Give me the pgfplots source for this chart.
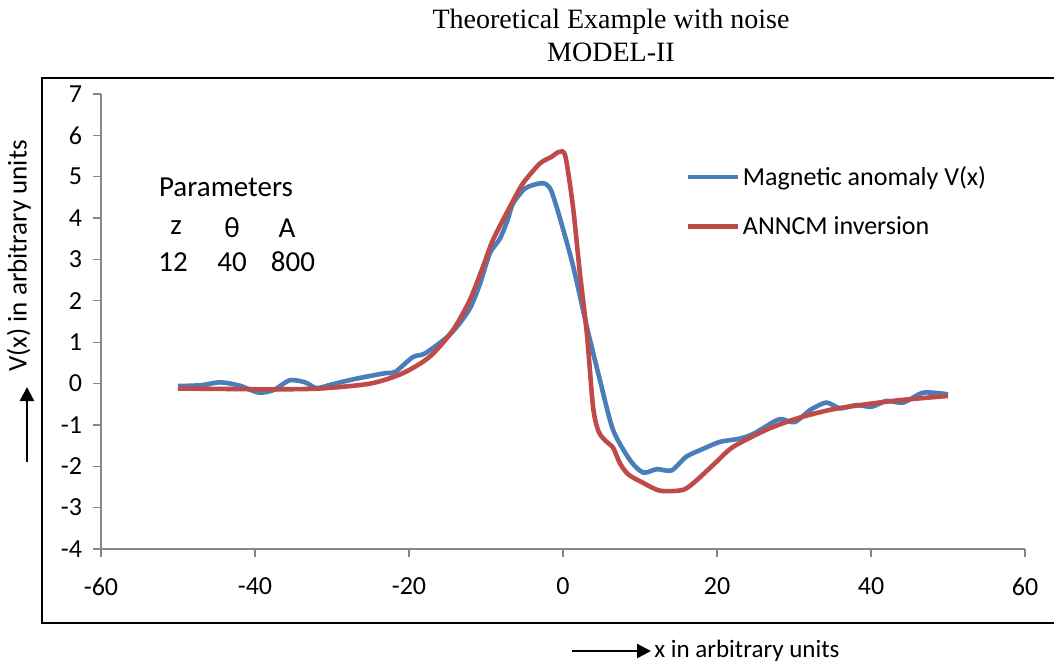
\documentclass[border=0pt]{standalone}
\usepackage{fontspec}
\setmainfont{Carlito}
\newfontfamily\timesfont{Liberation Serif}
\usepackage{pgfplots}
\pgfplotsset{compat=1.18}
\usetikzlibrary{arrows.meta}
\definecolor{exblue}{HTML}{4A7EBB}
\definecolor{exred}{HTML}{BE4B48}
\definecolor{axgrey}{HTML}{868686}
\begin{document}
\begin{tikzpicture}
\useasboundingbox (-50.5pt,-58.5pt) rectangle (476.5pt,274.5pt);
\draw[line width=1.3pt] (-29.5pt,-37pt) rectangle (490pt,235.5pt);
\begin{axis}[
  at={(0pt,0pt)}, anchor=south west,
  scale only axis, width=462pt, height=227.5pt,
  xmin=-60, xmax=60, ymin=-4, ymax=7,
  axis x line=bottom, axis y line=left,
  axis line style={-, axgrey, line width=0.6pt},
  every tick/.style={axgrey, line width=0.6pt},
  tick align=outside, major tick length=4pt,
  xtick={-60,-40,-20,0,20,40,60},
  xticklabels={-60,-40,-20,0,20,40,60},
  ytick={-4,-3,-2,-1,0,1,2,3,4,5,6,7},
  yticklabels={-4,-3,-2,-1,0,1,2,3,4,5,6,7},
  xticklabel style={font=\fontsize{13}{15}\selectfont, yshift=-7pt},
  yticklabel style={font=\fontsize{13}{15}\selectfont, xshift=-2pt},
  clip=false,
  legend style={at={(0.632,0.849)}, anchor=north west, draw=none, fill=none,
    inner sep=0pt, row sep=11pt, font=\fontsize{13}{15}\selectfont,
    nodes={inner sep=1.5pt}},
  legend cell align=left,
  legend image code/.code={\draw[#1] (0pt,0pt) -- (25pt,0pt);},
]
\addplot[exblue, line width=2.3pt, smooth, tension=0.45] coordinates {
(-50,-0.06) (-47,-0.04) (-44.5,0.03) (-42,-0.05) (-39.5,-0.22) (-37.5,-0.15)
(-35.5,0.08) (-33.5,0.03) (-32,-0.11) (-30,-0.02) (-26.8,0.12) (-23.1,0.25)
(-21.8,0.28) (-19.5,0.64) (-17.9,0.73) (-15,1.13) (-13.4,1.46) (-12,1.85)
(-10.8,2.4) (-9.5,3.15) (-8.2,3.5) (-7.2,3.95) (-6.5,4.35) (-4.9,4.72)
(-3,4.84) (-2.2,4.82) (-1.5,4.65) (-0.4,4.0) (1.3,2.85) (3.1,1.37)
(4.8,0.08) (6.5,-1.12) (8.7,-1.85) (10.4,-2.15) (12.2,-2.07) (14.1,-2.1)
(16.0,-1.77) (18.3,-1.57) (20.4,-1.41) (23,-1.33) (24.7,-1.22) (26.5,-1.02)
(28.2,-0.86) (30.1,-0.93) (32.1,-0.64) (34.2,-0.46) (36,-0.6) (38.1,-0.52)
(40.1,-0.56) (42,-0.42) (44.2,-0.46) (46.8,-0.22) (50,-0.26)
};
\addlegendentry{Magnetic anomaly V(x)}
\addplot[exred, line width=2.3pt, smooth, tension=0.45] coordinates {
(-50,-0.12) (-44,-0.13) (-38,-0.14) (-31.6,-0.12) (-25,0.0) (-20.8,0.25)
(-17.3,0.65) (-14.3,1.29) (-12.1,2.02) (-10.4,2.82) (-9.1,3.47) (-6.9,4.27)
(-5.2,4.84) (-3,5.32) (-1.5,5.48) (-0.5,5.60) (0.3,5.50) (1.3,4.27)
(2.2,2.66) (3.1,1.21) (3.9,-0.56) (4.6,-1.15) (5.5,-1.38) (6.5,-1.55)
(7.4,-1.93) (8.5,-2.2) (10.4,-2.4) (12.6,-2.59) (15.6,-2.57) (17.4,-2.33)
(20,-1.88) (22.1,-1.53) (26.5,-1.11) (30.8,-0.82) (35.1,-0.62) (39.4,-0.50)
(43.8,-0.40) (50,-0.30)
};
\addlegendentry{ANNCM inversion}
\end{axis}
% titles
\node[font=\timesfont\fontsize{14}{16}\selectfont] at (255pt,263.5pt) {Theoretical Example with noise};
\node[font=\timesfont\fontsize{14}{16}\selectfont] at (255pt,248.5pt) {MODEL-II};
% parameters
\begin{scope}[every node/.style={font=\fontsize{14.5}{16}\selectfont}]
\node at (62.5pt,181pt) {Parameters};
\node at (37.5pt,160.5pt) {z};
\node at (65.5pt,160.5pt) {θ};
\node at (93pt,160.5pt) {A};
\node at (36pt,143.5pt) {12};
\node at (65.5pt,143.5pt) {40};
\node at (96pt,143.5pt) {800};
\end{scope}
% axis labels
\node[rotate=90, font=\fontsize{13.5}{15}\selectfont] at (-41pt,146.5pt) {V(x) in arbitrary units};
\draw[-{Triangle[length=7pt,width=7pt]}, line width=1.2pt] (-37pt,43.5pt) -- (-37pt,81pt);
\draw[-{Triangle[length=7pt,width=7pt]}, line width=1.2pt] (235.5pt,-51pt) -- (275pt,-51pt);
\node[anchor=west, font=\fontsize{12.5}{14}\selectfont, inner sep=1pt] at (275.5pt,-51pt) {x in arbitrary units};
\end{tikzpicture}
\end{document}
